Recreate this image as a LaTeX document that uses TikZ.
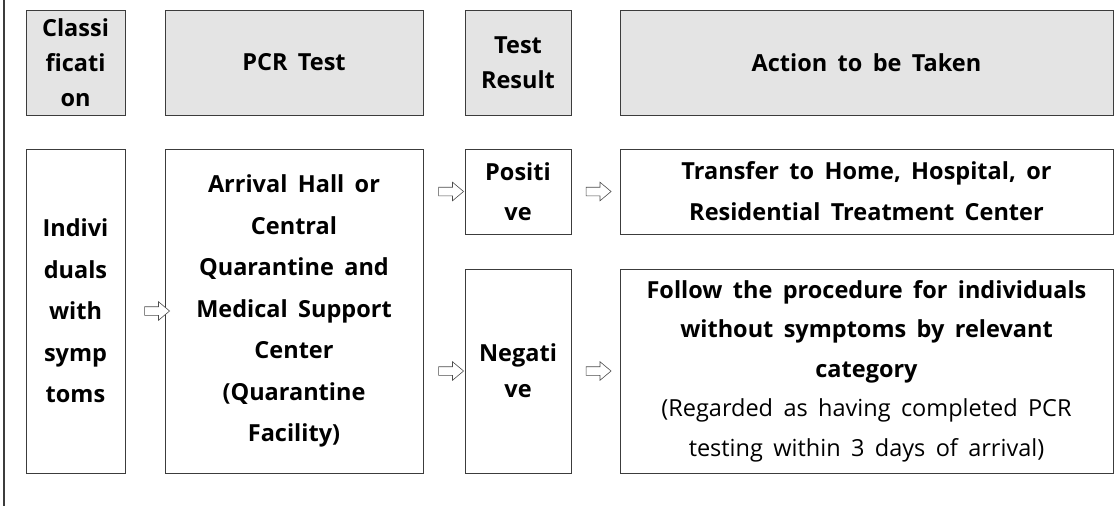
\documentclass[tikz,border=0pt]{standalone}
\usepackage{fontspec}
\setmainfont{Open Sans}[WordSpace=1.7]
\usetikzlibrary{shapes.arrows}
\definecolor{hdrgray}{HTML}{E4E4E4}
\definecolor{edge}{HTML}{3C3C3C}
\begin{document}
\begin{tikzpicture}[x=1pt,y=-1pt,
  box/.style={draw=edge, line width=0.9pt, rectangle, align=center, inner sep=0pt,
    font=\bfseries\fontsize{23.5}{39.5}\selectfont},
  hdr/.style={box, fill=hdrgray, font=\bfseries\fontsize{23.5}{35}\selectfont},
  tall/.style={font=\bfseries\fontsize{23.5}{41.5}\selectfont},
  hollowarrow/.style={single arrow, draw=black!70, fill=white, line width=0.6pt,
    minimum height=25pt, single arrow head extend=5pt, inner xsep=0pt, inner ysep=4pt,
    single arrow tip angle=80, anchor=center}]
\useasboundingbox (0,0) rectangle (1114,506);
\fill[white] (0,0) rectangle (1114,506);
\coordinate (ltop) at (4,0);
\coordinate (lbot) at (4,506);
\draw[edge, line width=1.2pt] (ltop) -- (lbot);

% headers
\node[hdr, minimum width=99pt, minimum height=105pt] (cls) at (75.5,62.5) {Classi\\ficati\\on};
\node[hdr, minimum width=258pt, minimum height=105pt] (pcrh) at (294,62.5) {PCR Test};
\node[hdr, minimum width=106pt, minimum height=105pt] (trh) at (518,62.5) {Test\\Result};
\node[hdr, minimum width=493pt, minimum height=105pt] (acth) at (866.5,62.5) {Action to be Taken};

% body
\node[box, tall, minimum width=99pt, minimum height=324pt] (ind) at (75.5,311) {Indivi\\duals\\with\\symp\\toms};
\node[box, tall, minimum width=258pt, minimum height=324pt] (pcr) at (294,311)
  {Arrival Hall or\\Central\\Quarantine and\\Medical Support\\Center\\(Quarantine\\Facility)};
\node[box, font=\bfseries\fontsize{23.5}{40}\selectfont, minimum width=106pt, minimum height=85pt] (pos) at (518,191.5) {Positi\\ve};
\node[box, font=\bfseries\fontsize{23.5}{41}\selectfont, minimum width=493pt, minimum height=85pt] (tra) at (866.5,191.5)
  {Transfer to Home, Hospital, or\\Residential Treatment Center};
\node[box, font=\bfseries\fontsize{23.5}{36}\selectfont, minimum width=106pt, minimum height=204pt] (neg) at (518,371) {Negati\\ve};
\node[box, minimum width=493pt, minimum height=204pt] (fol) at (866.5,371)
  {Follow the procedure for individuals\\without symptoms by relevant\\category\\
   \mdseries(Regarded as having completed PCR\\\mdseries testing within 3 days of arrival)};

% hollow block arrows
\node[hollowarrow] (a1) at (154.5,311) {};
\node[hollowarrow] (a2) at (448.5,191.5) {};
\node[hollowarrow] (a3) at (448.5,371) {};
\node[hollowarrow] (a4) at (596,191.5) {};
\node[hollowarrow] (a5) at (596,371) {};
\end{tikzpicture}
\end{document}
